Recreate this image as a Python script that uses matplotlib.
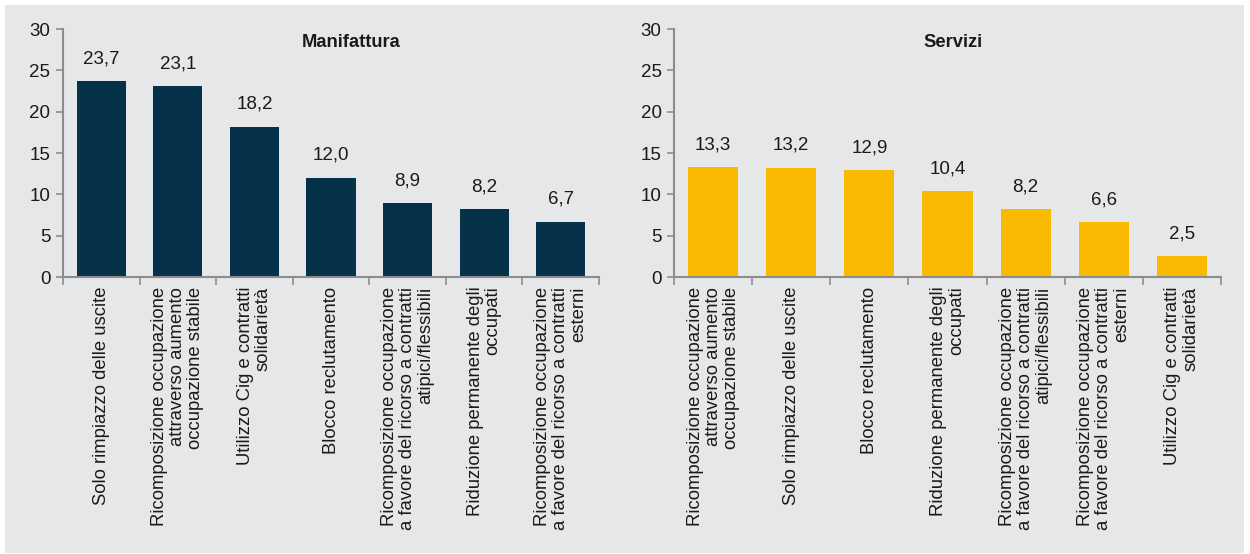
import matplotlib
matplotlib.use("Agg")
import matplotlib.pyplot as plt
from matplotlib.patches import Rectangle

plt.rcParams["font.family"] = ["Liberation Sans", "DejaVu Sans"]

# Manifattura
manif_labels = [
    "Solo rimpiazzo delle uscite",
    "Ricomposizione occupazione\nattraverso aumento\noccupazione stabile",
    "Utilizzo Cig e contratti\nsolidarietà",
    "Blocco reclutamento",
    "Ricomposizione occupazione\na favore del ricorso a contratti\natipici/flessibili",
    "Riduzione permanente degli\noccupati",
    "Ricomposizione occupazione\na favore del ricorso a contratti\nesterni",
]
manif_values = [23.7, 23.1, 18.2, 12.0, 8.9, 8.2, 6.7]

# Servizi
serv_labels = [
    "Ricomposizione occupazione\nattraverso aumento\noccupazione stabile",
    "Solo rimpiazzo delle uscite",
    "Blocco reclutamento",
    "Riduzione permanente degli\noccupati",
    "Ricomposizione occupazione\na favore del ricorso a contratti\natipici/flessibili",
    "Ricomposizione occupazione\na favore del ricorso a contratti\nesterni",
    "Utilizzo Cig e contratti\nsolidarietà",
]
serv_values = [13.3, 13.2, 12.9, 10.4, 8.2, 6.6, 2.5]

BG = "#e6e7e9"
AXIS = "#8c8c8c"
TXT = "#1a1a1a"

W, H = 1250, 554
fig = plt.figure(figsize=(W / 100, H / 100), dpi=100, facecolor="white")
fig.patches.append(Rectangle((5 / W, 1 / H), (1244 - 5) / W, (553 - 5) / H,
                             transform=fig.transFigure, facecolor=BG,
                             edgecolor="none", zorder=-10))


def panel(rect, labels, values, color, title, title_x):
    ax = fig.add_axes(rect)
    ax.set_facecolor("none")
    x = list(range(len(values)))
    ax.bar(x, values, width=0.64, color=color, zorder=2)
    for xi, v in zip(x, values):
        ax.annotate(f"{v:.1f}".replace(".", ","), (xi, v), xytext=(0, 10),
                    textcoords="offset points", ha="center", va="bottom",
                    fontsize=13.5, color=TXT)
    ax.set_xlim(-0.5, len(values) - 0.5)
    ax.set_ylim(0, 30)
    ax.set_yticks(range(0, 31, 5))
    ax.set_xticks(x)
    ax.set_xticklabels(labels, rotation=90, ha="center", va="top",
                       multialignment="right", fontsize=13.3, color=TXT,
                       linespacing=1.08)
    ax.set_xticks([i - 0.5 for i in range(len(values) + 1)], minor=True)
    ax.tick_params(axis="x", which="major", length=0, pad=7)
    ax.tick_params(axis="x", which="minor", length=6, color=AXIS, width=1.2)
    ax.tick_params(axis="y", length=5, color=AXIS, width=1.2, labelsize=13.5,
                   labelcolor=TXT, pad=4)
    for s in ("top", "right"):
        ax.spines[s].set_visible(False)
    for s in ("left", "bottom"):
        ax.spines[s].set_color(AXIS)
        ax.spines[s].set_linewidth(1.5)
    ax.text(title_x, 0.947, title, transform=ax.transAxes, ha="center",
            va="center", fontsize=13.2, fontweight="bold", color=TXT)
    return ax


y0 = (H - 277) / H
hgt = (277 - 29) / H
panel([63 / W, y0, (599 - 63) / W, hgt], manif_labels, manif_values,
      "#05324a", "Manifattura", 0.537)
panel([674 / W, y0, (1221 - 674) / W, hgt], serv_labels, serv_values,
      "#f9b900", "Servizi", 0.51)

fig.savefig("out.png", dpi=100, facecolor="white")
